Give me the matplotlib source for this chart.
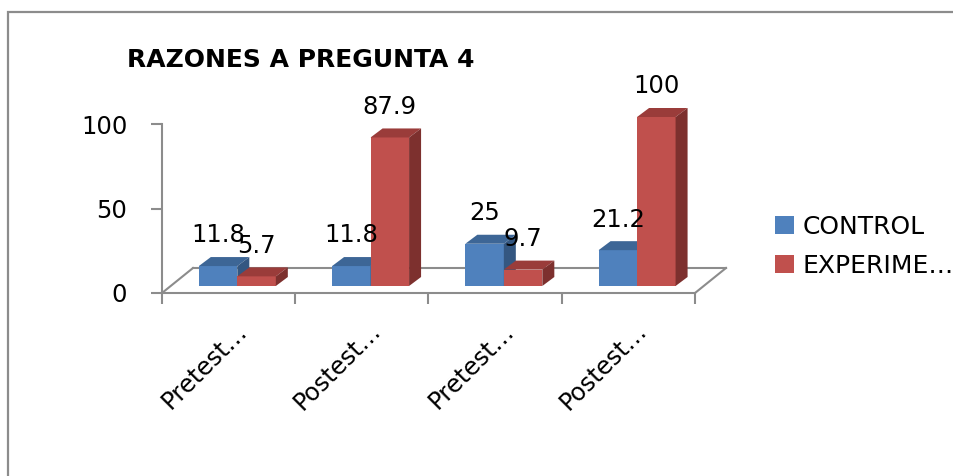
import matplotlib.pyplot as plt
from matplotlib.patches import Patch, Rectangle

categories = ['Pretest…', 'Postest…', 'Pretest…', 'Postest…']
series_names = ['CONTROL', 'EXPERIME…']
control = [11.8, 11.8, 25, 21.2]
experimental = [5.7, 87.9, 9.7, 100]
y_ticks = [0, 50, 100]

front_colors = ['#4F81BD', '#C0504D']
top_colors = ['#3D6696', '#9A3C3A']
side_colors = ['#345781', '#7D302E']
grid_gray = '#8C8C8C'

plt.rcParams['font.family'] = ['DejaVu Sans']

W, H = 954, 476
fig = plt.figure(figsize=(W / 100, H / 100), dpi=100)

# outer chart frame (runs off the right and bottom edge)
fig.patches.append(Rectangle((8 / W, -0.1), 1.2, 1 - 12 / H + 0.1,
                             transform=fig.transFigure, fill=False,
                             edgecolor=grid_gray, linewidth=1.6))

# plot area placed in pixels: x from 162 to 695, y from 293 (zero) up to 124 (100)
ax = fig.add_axes([162 / W, (H - 293) / H, 533 / W, 169 / H])
ax.set_xlim(-0.5, 3.5)
ax.set_ylim(0, 100)

px_x = 533 / 4.0      # pixels per category
px_y = 169 / 100.0    # pixels per unit

# floor depth and bar placement in data units
floor_dx, floor_dy = 31 / px_x, 25 / px_y
shift_x, shift_y = 8.7 / px_x, 7 / px_y
bar_w = 38.5 / px_x
depth_dx, depth_dy = 12 / px_x, 9 / px_y

# floor outline
ax.plot([-0.5 + floor_dx, 3.5 + floor_dx], [floor_dy, floor_dy],
        color=grid_gray, lw=1.5, clip_on=False, zorder=1)
ax.plot([-0.5, -0.5 + floor_dx], [0, floor_dy],
        color=grid_gray, lw=1.5, clip_on=False, zorder=1)
ax.plot([3.5, 3.5 + floor_dx], [0, floor_dy],
        color=grid_gray, lw=1.5, clip_on=False, zorder=1)

for i in range(len(categories)):
    for s, values in enumerate([control, experimental]):
        v = values[i]
        xl = i + shift_x - bar_w + s * bar_w
        xr = xl + bar_w
        top = shift_y + v
        ax.bar(xl, v, width=bar_w, bottom=shift_y, align='edge',
               color=front_colors[s], linewidth=0, clip_on=False, zorder=3)
        ax.fill([xl, xr, xr + depth_dx, xl + depth_dx],
                [top, top, top + depth_dy, top + depth_dy],
                color=top_colors[s], linewidth=0, clip_on=False, zorder=3)
        ax.fill([xr, xr + depth_dx, xr + depth_dx, xr],
                [shift_y, shift_y + depth_dy, top + depth_dy, top],
                color=side_colors[s], linewidth=0, clip_on=False, zorder=3)
        ax.text((xl + xr) / 2, top + 14, f'{v:g}', ha='center', va='baseline',
                fontsize=17.5, color='black', zorder=5, clip_on=False)

for side in ['top', 'right']:
    ax.spines[side].set_visible(False)
for side in ['left', 'bottom']:
    ax.spines[side].set_color(grid_gray)
    ax.spines[side].set_linewidth(1.5)

ax.set_yticks(y_ticks)
ax.set_xticks([-0.5, 0.5, 1.5, 2.5, 3.5])
ax.set_xticklabels([])
ax.tick_params(axis='both', color=grid_gray, width=1.5, length=8, direction='out')
ax.tick_params(axis='y', labelsize=17.5, pad=17)

for i, label in enumerate(categories):
    ax.annotate(label, xy=(i, 0), xytext=(15, -34), textcoords='offset pixels',
                rotation=45, ha='right', va='center', rotation_mode='anchor',
                fontsize=17.5, annotation_clip=False)

fig.text(127 / W, 1 - 67 / H, 'RAZONES A PREGUNTA 4', ha='left', va='baseline',
         fontsize=18, fontweight='bold')

handles = [Patch(facecolor=c, edgecolor='none') for c in front_colors]
fig.legend(handles, series_names, loc='upper left',
           bbox_to_anchor=(775 / W, 1 - 215 / H), frameon=False,
           fontsize=18, handlelength=0.75, handleheight=0.75,
           handletextpad=0.35, labelspacing=0.6, borderpad=0, borderaxespad=0)

fig.savefig('out.png', dpi=100)
